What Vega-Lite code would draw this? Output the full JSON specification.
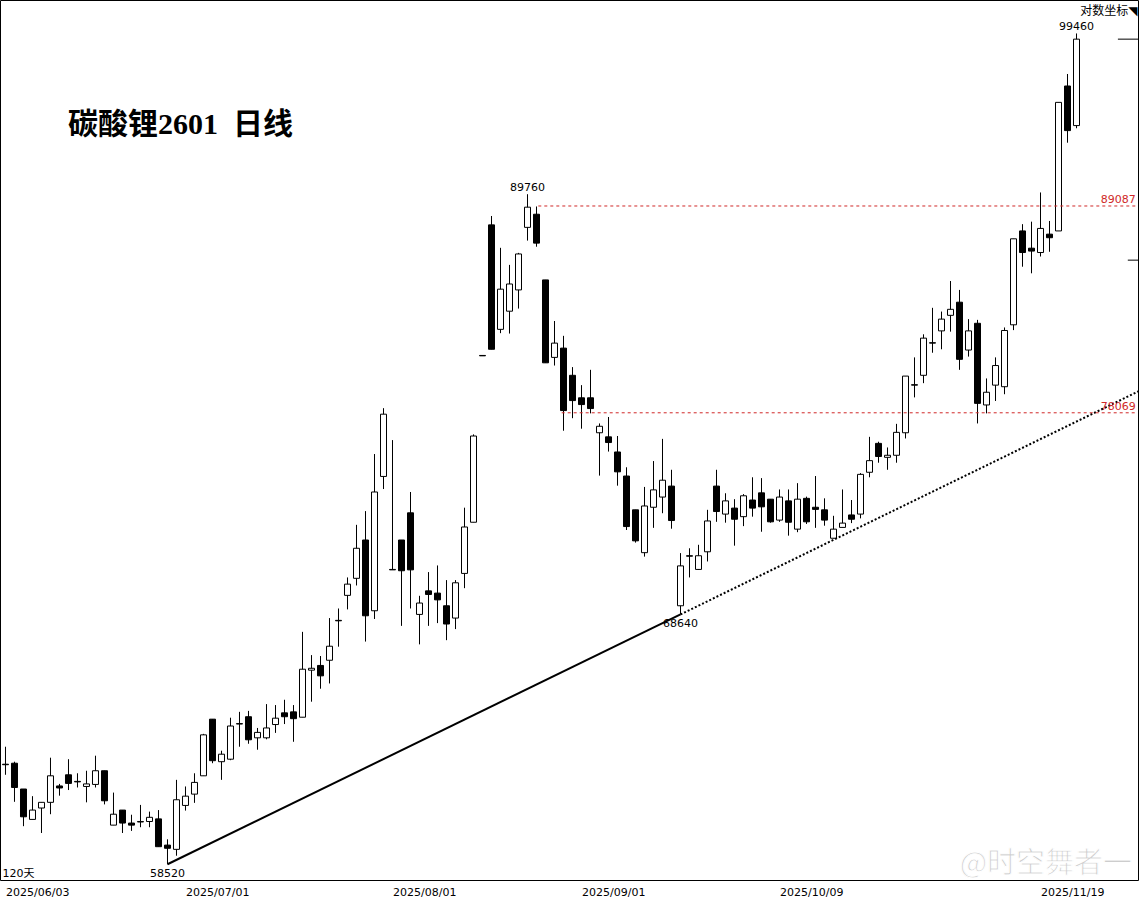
{
  "$schema": "https://vega.github.io/schema/vega-lite/v6.json",
  "width": 1138,
  "height": 880,
  "autosize": {"type": "none"},
  "padding": {"left": 0, "top": 0, "right": 2, "bottom": 18},
  "background": "white",
  "title": {"text": "碳酸锂2601\u00a0\u00a0日线", "anchor": "start", "frame": "group", "orient": "top", "offset": 0, "dx": 68, "dy": 164, "baseline": "alphabetic", "font": "Liberation Serif, Noto Sans CJK SC", "fontSize": 30, "fontWeight": "bold", "color": "#000000"},
  "datasets": {
    "candles": [
      {"d":"2025-06-03","i":0,"o":62380,"h":63080,"l":61960,"c":62360},
      {"d":"2025-06-04","i":1,"o":62420,"h":62480,"l":60900,"c":61460},
      {"d":"2025-06-05","i":2,"o":61400,"h":61400,"l":59960,"c":60320},
      {"d":"2025-06-06","i":3,"o":60220,"h":61120,"l":60220,"c":60580},
      {"d":"2025-06-09","i":4,"o":60660,"h":60880,"l":59700,"c":60880},
      {"d":"2025-06-10","i":5,"o":60880,"h":62640,"l":60420,"c":61920},
      {"d":"2025-06-11","i":6,"o":61520,"h":61600,"l":61140,"c":61440},
      {"d":"2025-06-12","i":7,"o":61960,"h":62580,"l":61360,"c":61620},
      {"d":"2025-06-13","i":8,"o":61700,"h":62020,"l":61460,"c":61680},
      {"d":"2025-06-16","i":9,"o":61500,"h":62120,"l":60880,"c":61600},
      {"d":"2025-06-17","i":10,"o":61580,"h":62720,"l":61460,"c":62120},
      {"d":"2025-06-18","i":11,"o":62120,"h":62120,"l":60800,"c":60940},
      {"d":"2025-06-19","i":12,"o":60000,"h":61260,"l":60000,"c":60420},
      {"d":"2025-06-20","i":13,"o":60580,"h":60580,"l":59700,"c":60080},
      {"d":"2025-06-23","i":14,"o":60080,"h":60400,"l":59780,"c":60000},
      {"d":"2025-06-24","i":15,"o":60120,"h":60780,"l":59920,"c":60140},
      {"d":"2025-06-25","i":16,"o":60140,"h":60520,"l":59920,"c":60300},
      {"d":"2025-06-26","i":17,"o":60240,"h":60580,"l":59180,"c":59180},
      {"d":"2025-06-27","i":18,"o":59240,"h":59460,"l":58520,"c":59120},
      {"d":"2025-06-30","i":19,"o":59080,"h":61760,"l":58840,"c":60980},
      {"d":"2025-07-01","i":20,"o":60760,"h":61500,"l":60560,"c":61120},
      {"d":"2025-07-02","i":21,"o":61200,"h":62020,"l":60860,"c":61660},
      {"d":"2025-07-03","i":22,"o":61920,"h":63600,"l":61920,"c":63560},
      {"d":"2025-07-04","i":23,"o":64200,"h":64200,"l":62420,"c":62520},
      {"d":"2025-07-07","i":24,"o":62480,"h":62920,"l":61760,"c":62780},
      {"d":"2025-07-08","i":25,"o":62580,"h":64260,"l":62540,"c":63920},
      {"d":"2025-07-09","i":26,"o":64000,"h":64500,"l":63080,"c":64020},
      {"d":"2025-07-10","i":27,"o":64300,"h":64540,"l":63200,"c":63360},
      {"d":"2025-07-11","i":28,"o":63440,"h":63840,"l":62960,"c":63660},
      {"d":"2025-07-14","i":29,"o":63440,"h":64820,"l":63380,"c":63840},
      {"d":"2025-07-15","i":30,"o":63980,"h":64780,"l":63640,"c":64240},
      {"d":"2025-07-16","i":31,"o":64460,"h":65000,"l":64000,"c":64300},
      {"d":"2025-07-17","i":32,"o":64500,"h":64780,"l":63280,"c":64220},
      {"d":"2025-07-18","i":33,"o":64280,"h":67880,"l":64280,"c":66280},
      {"d":"2025-07-21","i":34,"o":66240,"h":66880,"l":64920,"c":66320},
      {"d":"2025-07-22","i":35,"o":66440,"h":66840,"l":65460,"c":66000},
      {"d":"2025-07-23","i":36,"o":66660,"h":68480,"l":65680,"c":67260},
      {"d":"2025-07-24","i":37,"o":68380,"h":68900,"l":67240,"c":68360},
      {"d":"2025-07-25","i":38,"o":69480,"h":70280,"l":68860,"c":69980},
      {"d":"2025-07-28","i":39,"o":70240,"h":72680,"l":69920,"c":71600},
      {"d":"2025-07-29","i":40,"o":71980,"h":73320,"l":67460,"c":68580},
      {"d":"2025-07-30","i":41,"o":68800,"h":76040,"l":68440,"c":74220},
      {"d":"2025-07-31","i":42,"o":74960,"h":78300,"l":74360,"c":78000},
      {"d":"2025-08-01","i":43,"o":70640,"h":76720,"l":70620,"c":70620},
      {"d":"2025-08-04","i":44,"o":71980,"h":71980,"l":68140,"c":70580},
      {"d":"2025-08-05","i":45,"o":73240,"h":74220,"l":68900,"c":70620},
      {"d":"2025-08-06","i":46,"o":68640,"h":69460,"l":67340,"c":69140},
      {"d":"2025-08-07","i":47,"o":69680,"h":70520,"l":68140,"c":69520},
      {"d":"2025-08-08","i":48,"o":69580,"h":70820,"l":68260,"c":69280},
      {"d":"2025-08-11","i":49,"o":69020,"h":70160,"l":67520,"c":68220},
      {"d":"2025-08-12","i":50,"o":68480,"h":70160,"l":68000,"c":70040},
      {"d":"2025-08-13","i":51,"o":70460,"h":73480,"l":69800,"c":72580},
      {"d":"2025-08-14","i":52,"o":72800,"h":77000,"l":72800,"c":76920},
      {"d":"2025-08-15","i":53,"o":80980,"h":80980,"l":80960,"c":80960},
      {"d":"2025-08-18","i":54,"o":88020,"h":88520,"l":81300,"c":81300},
      {"d":"2025-08-19","i":55,"o":82340,"h":86740,"l":82140,"c":84480},
      {"d":"2025-08-20","i":56,"o":83300,"h":85800,"l":82120,"c":84760},
      {"d":"2025-08-21","i":57,"o":84440,"h":86460,"l":83440,"c":86400},
      {"d":"2025-08-22","i":58,"o":87880,"h":89760,"l":87140,"c":89020},
      {"d":"2025-08-25","i":59,"o":88620,"h":89060,"l":86800,"c":87000},
      {"d":"2025-08-26","i":60,"o":84980,"h":84980,"l":80600,"c":80600},
      {"d":"2025-08-27","i":61,"o":80880,"h":82780,"l":80460,"c":81620},
      {"d":"2025-08-28","i":62,"o":81360,"h":82000,"l":77180,"c":78180},
      {"d":"2025-08-29","i":63,"o":79960,"h":80380,"l":77800,"c":78680},
      {"d":"2025-09-01","i":64,"o":78820,"h":79460,"l":77280,"c":78480},
      {"d":"2025-09-02","i":65,"o":78820,"h":80240,"l":78040,"c":78280},
      {"d":"2025-09-03","i":66,"o":77080,"h":77540,"l":75000,"c":77400},
      {"d":"2025-09-04","i":67,"o":76880,"h":77860,"l":76160,"c":76600},
      {"d":"2025-09-05","i":68,"o":76140,"h":76920,"l":74520,"c":75180},
      {"d":"2025-09-08","i":69,"o":74980,"h":75400,"l":72440,"c":72600},
      {"d":"2025-09-09","i":70,"o":73380,"h":73380,"l":71860,"c":71940},
      {"d":"2025-09-10","i":71,"o":71400,"h":74460,"l":71220,"c":73560},
      {"d":"2025-09-11","i":72,"o":73500,"h":75700,"l":72540,"c":74320},
      {"d":"2025-09-12","i":73,"o":73980,"h":76780,"l":73220,"c":74780},
      {"d":"2025-09-15","i":74,"o":74500,"h":75280,"l":72500,"c":72880},
      {"d":"2025-09-16","i":75,"o":69020,"h":71380,"l":68640,"c":70800},
      {"d":"2025-09-17","i":76,"o":71260,"h":71600,"l":70280,"c":71240},
      {"d":"2025-09-18","i":77,"o":70640,"h":71760,"l":70620,"c":71260},
      {"d":"2025-09-19","i":78,"o":71440,"h":73380,"l":71000,"c":72860},
      {"d":"2025-09-22","i":79,"o":74500,"h":75280,"l":72820,"c":73300},
      {"d":"2025-09-23","i":80,"o":73180,"h":74160,"l":72780,"c":73800},
      {"d":"2025-09-24","i":81,"o":73460,"h":73880,"l":71720,"c":72940},
      {"d":"2025-09-25","i":82,"o":73060,"h":74120,"l":72620,"c":74040},
      {"d":"2025-09-26","i":83,"o":73840,"h":74920,"l":73060,"c":73460},
      {"d":"2025-09-29","i":84,"o":74180,"h":74880,"l":72360,"c":73520},
      {"d":"2025-09-30","i":85,"o":73880,"h":73880,"l":72780,"c":72820},
      {"d":"2025-10-09","i":86,"o":72900,"h":74340,"l":72820,"c":73980},
      {"d":"2025-10-10","i":87,"o":73800,"h":74340,"l":72180,"c":72800},
      {"d":"2025-10-13","i":88,"o":72480,"h":74640,"l":72340,"c":73880},
      {"d":"2025-10-14","i":89,"o":73920,"h":74000,"l":72720,"c":72820},
      {"d":"2025-10-15","i":90,"o":73500,"h":74980,"l":72540,"c":73400},
      {"d":"2025-10-16","i":91,"o":73380,"h":73920,"l":72640,"c":72900},
      {"d":"2025-10-17","i":92,"o":72060,"h":73100,"l":72060,"c":72480},
      {"d":"2025-10-20","i":93,"o":72560,"h":74340,"l":72560,"c":72760},
      {"d":"2025-10-21","i":94,"o":73140,"h":73840,"l":72760,"c":72940},
      {"d":"2025-10-22","i":95,"o":73180,"h":75120,"l":72980,"c":75060},
      {"d":"2025-10-23","i":96,"o":75160,"h":76880,"l":74920,"c":75720},
      {"d":"2025-10-24","i":97,"o":76560,"h":76640,"l":75620,"c":75920},
      {"d":"2025-10-27","i":98,"o":75880,"h":76360,"l":75280,"c":75980},
      {"d":"2025-10-28","i":99,"o":75980,"h":77520,"l":75620,"c":77100},
      {"d":"2025-10-29","i":100,"o":77080,"h":79920,"l":76800,"c":79920},
      {"d":"2025-10-30","i":101,"o":79480,"h":80880,"l":78840,"c":79460},
      {"d":"2025-10-31","i":102,"o":79960,"h":82080,"l":79560,"c":81880},
      {"d":"2025-11-03","i":103,"o":81640,"h":83480,"l":81120,"c":81620},
      {"d":"2025-11-04","i":104,"o":82260,"h":83280,"l":81300,"c":82880},
      {"d":"2025-11-05","i":105,"o":83080,"h":84920,"l":82220,"c":83400},
      {"d":"2025-11-06","i":106,"o":83780,"h":84440,"l":80240,"c":80780},
      {"d":"2025-11-07","i":107,"o":81260,"h":82880,"l":80920,"c":82260},
      {"d":"2025-11-10","i":108,"o":82660,"h":82840,"l":77540,"c":78540},
      {"d":"2025-11-11","i":109,"o":78460,"h":79800,"l":78040,"c":79100},
      {"d":"2025-11-12","i":110,"o":79460,"h":80880,"l":78660,"c":80460},
      {"d":"2025-11-13","i":111,"o":79380,"h":82440,"l":79000,"c":82280},
      {"d":"2025-11-14","i":112,"o":82580,"h":87240,"l":82300,"c":87240},
      {"d":"2025-11-17","i":113,"o":87680,"h":88060,"l":85700,"c":86480},
      {"d":"2025-11-18","i":114,"o":86720,"h":88200,"l":85340,"c":86560},
      {"d":"2025-11-19","i":115,"o":86480,"h":89860,"l":86260,"c":87820},
      {"d":"2025-11-20","i":116,"o":87500,"h":88240,"l":86520,"c":87300},
      {"d":"2025-11-21","i":117,"o":87680,"h":95180,"l":87680,"c":95180},
      {"d":"2025-11-24","i":118,"o":96180,"h":96920,"l":92760,"c":93480},
      {"d":"2025-11-25","i":119,"o":93780,"h":99460,"l":93620,"c":99100}
    ],
    "trend": [
      {"s":"solid","i":18,"p":58520},
      {"s":"solid","i":75,"p":68640},
      {"s":"dot","i":75,"p":68640},
      {"s":"dot","i":126,"p":79170}
    ],
    "levels": [
      {"v":89087,"from":59.2,"to":125.8},
      {"v":78069,"from":61.8,"to":125.8}
    ],
    "marks": [
      {"v":99100,"from":123.6,"to":126},
      {"v":86060,"from":124.7,"to":126}
    ],
    "highs": [
      {"i":58,"p":89760},
      {"i":119,"p":99460}
    ],
    "lows": [
      {"i":18,"p":58520},
      {"i":75,"p":68640}
    ],
    "notes": [
      {"t":"@时空舞者一","i":115.6,"p":58540}
    ]
  },
  "layer": [
    {
      "data": {"name": "candles"},
      "mark": {"type": "rule", "stroke": "#000000", "strokeWidth": 1},
      "encoding": {
        "x": {"field": "i", "type": "quantitative",
              "scale": {"domain": [-0.6111, 125.8333], "nice": false, "zero": false, "padding": 0},
              "axis": {"values": [0, 20, 43, 64, 86, 115],
                       "labelExpr": "datum.value == 0 ? '2025/06/03' : datum.value == 20 ? '2025/07/01' : datum.value == 43 ? '2025/08/01' : datum.value == 64 ? '2025/09/01' : datum.value == 86 ? '2025/10/09' : '2025/11/19'",
                       "labelAlign": "left", "labelBaseline": "top", "labelPadding": 6,
                       "labelFont": "DejaVu Sans", "labelFontSize": 11, "labelColor": "#000000",
                       "labelFlush": false, "labelOverlap": false,
                       "domain": false, "ticks": false, "grid": false,
                       "title": "120天", "titleX": 2, "titleY": -7, "titleAlign": "left", "titleBaseline": "middle",
                       "titleFont": "DejaVu Sans, Noto Sans CJK SC", "titleFontSize": 11, "titleFontWeight": "normal", "titleColor": "#000000"}},
        "y": {"field": "l", "type": "quantitative",
              "scale": {"type": "log", "domain": [57935, 101608], "nice": false, "padding": 0},
              "axis": {"orient": "right", "labels": false, "ticks": false, "domain": false, "grid": false,
                       "title": "对数坐标◥", "titleAngle": 0, "titleX": -1, "titleY": 10, "titleAlign": "right", "titleBaseline": "middle",
                       "titleFont": "DejaVu Sans, Noto Sans CJK SC", "titleFontSize": 12, "titleFontWeight": "normal", "titleColor": "#000000"}},
        "y2": {"field": "h"}
      }
    },
    {
      "data": {"name": "candles"},
      "mark": {"type": "bar", "size": 6, "stroke": "#000000", "strokeWidth": 1},
      "encoding": {
        "x": {"field": "i", "type": "quantitative"},
        "y": {"field": "o", "type": "quantitative"},
        "y2": {"field": "c"},
        "fill": {"condition": {"test": "datum.c < datum.o", "value": "#000000"}, "value": "#ffffff"}
      }
    },
    {
      "data": {"name": "trend"},
      "transform": [{"filter": "datum.s == 'solid'"}],
      "mark": {"type": "line", "stroke": "#000000", "strokeWidth": 2, "clip": true},
      "encoding": {
        "x": {"field": "i", "type": "quantitative"},
        "y": {"field": "p", "type": "quantitative"}
      }
    },
    {
      "data": {"name": "trend"},
      "transform": [{"filter": "datum.s == 'dot'"}],
      "mark": {"type": "line", "stroke": "#000000", "strokeWidth": 2, "strokeDash": [2, 2], "clip": true},
      "encoding": {
        "x": {"field": "i", "type": "quantitative"},
        "y": {"field": "p", "type": "quantitative"}
      }
    },
    {
      "data": {"name": "levels"},
      "mark": {"type": "rule", "stroke": "#d02828", "strokeWidth": 1, "strokeDash": [3, 3]},
      "encoding": {
        "x": {"field": "from", "type": "quantitative"},
        "x2": {"field": "to"},
        "y": {"field": "v", "type": "quantitative"}
      }
    },
    {
      "data": {"name": "levels"},
      "mark": {"type": "text", "align": "right", "baseline": "alphabetic", "dx": -2, "dy": -3, "font": "DejaVu Sans", "fontSize": 11, "fill": "#d02828"},
      "encoding": {
        "x": {"field": "to", "type": "quantitative"},
        "y": {"field": "v", "type": "quantitative"},
        "text": {"field": "v", "type": "quantitative", "format": "d"}
      }
    },
    {
      "data": {"name": "marks"},
      "mark": {"type": "rule", "stroke": "#000000", "strokeWidth": 1, "clip": true},
      "encoding": {
        "x": {"field": "from", "type": "quantitative"},
        "x2": {"field": "to"},
        "y": {"field": "v", "type": "quantitative"}
      }
    },
    {
      "data": {"name": "highs"},
      "mark": {"type": "text", "align": "center", "baseline": "alphabetic", "dy": -3, "font": "DejaVu Sans", "fontSize": 11, "fill": "#000000"},
      "encoding": {
        "x": {"field": "i", "type": "quantitative"},
        "y": {"field": "p", "type": "quantitative"},
        "text": {"field": "p", "type": "quantitative", "format": "d"}
      }
    },
    {
      "data": {"name": "lows"},
      "mark": {"type": "text", "align": "center", "baseline": "alphabetic", "dy": 13, "font": "DejaVu Sans", "fontSize": 11, "fill": "#000000"},
      "encoding": {
        "x": {"field": "i", "type": "quantitative"},
        "y": {"field": "p", "type": "quantitative"},
        "text": {"field": "p", "type": "quantitative", "format": "d"}
      }
    },
    {
      "data": {"name": "notes"},
      "mark": {"type": "text", "align": "center", "baseline": "middle", "font": "Noto Sans CJK SC", "fontSize": 29, "fill": "#cdcdcd", "stroke": "#ffffff", "strokeWidth": 1},
      "encoding": {
        "x": {"field": "i", "type": "quantitative"},
        "y": {"field": "p", "type": "quantitative"},
        "text": {"field": "t", "type": "nominal"}
      }
    }
  ],
  "config": {"view": {"stroke": "#000000", "strokeWidth": 1}, "font": "DejaVu Sans"}
}
